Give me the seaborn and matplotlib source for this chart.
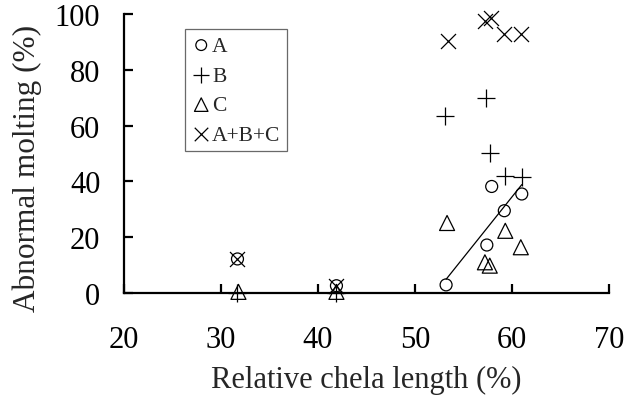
import matplotlib
matplotlib.use("Agg")
import matplotlib.pyplot as plt
import seaborn as sns
import pandas as pd

# Relative chela length (%) and abnormal molting rate (%) per treatment
a_x = [31.7, 41.9, 53.2, 57.4, 57.9, 59.2, 61.0]
a_y = [12.2, 2.6, 2.9, 17.2, 38.2, 29.5, 35.5]

b_x = [31.7, 41.9, 53.1, 57.3, 57.7, 59.3, 61.0]
b_y = [0.0, 0.0, 63.6, 69.9, 50.2, 42.0, 41.5]

c_x = [31.8, 41.9, 53.3, 57.2, 57.7, 59.3, 60.9]
c_y = [0.4, 0.4, 25.1, 11.0, 9.8, 22.3, 16.4]

abc_x = [31.7, 41.9, 53.4, 57.2, 57.8, 59.2, 60.9]
abc_y = [12.2, 2.6, 90.4, 97.6, 98.8, 92.8, 92.8]

x_ticks = [20, 30, 40, 50, 60, 70]
y_ticks = [0, 20, 40, 60, 80, 100]

sns.set_style("white")
plt.rcParams["font.family"] = ["Liberation Serif", "DejaVu Serif"]

fig = plt.figure(figsize=(6.26, 4.10), dpi=100)
ax = fig.add_axes([0.198, 0.283, 0.775, 0.680])

df_a = pd.DataFrame({"x": a_x, "y": a_y})
df_b = pd.DataFrame({"x": b_x, "y": b_y})
df_c = pd.DataFrame({"x": c_x, "y": c_y})
df_abc = pd.DataFrame({"x": abc_x, "y": abc_y})

sns.scatterplot(data=df_a, x="x", y="y", marker="o", s=8.6 ** 2,
                facecolor="none", edgecolor="black", linewidth=0.9,
                label="A", ax=ax, clip_on=False, zorder=3)
sns.scatterplot(data=df_b, x="x", y="y", marker="+", s=13 ** 2,
                color="black", linewidth=0.9, label="B", ax=ax,
                clip_on=False, zorder=3)
sns.scatterplot(data=df_c, x="x", y="y", marker="^", s=10.8 ** 2,
                facecolor="none", edgecolor="black", linewidth=0.9,
                label="C", ax=ax, clip_on=False, zorder=3)
sns.scatterplot(data=df_abc, x="x", y="y", marker="x", s=10.8 ** 2,
                color="black", linewidth=0.9, label="A+B+C", ax=ax,
                clip_on=False, zorder=3)

# Linear fit of treatment A over the long-chela group
fit = df_a[df_a["x"] > 50]
sns.regplot(data=fit, x="x", y="y", scatter=False, ci=None, truncate=True,
            line_kws={"color": "black", "linewidth": 0.9}, ax=ax)

ax.set_xlim(20, 70)
ax.set_ylim(0, 100)
ax.set_xticks(x_ticks)
ax.set_yticks(y_ticks)

for side in ("top", "right"):
    ax.spines[side].set_visible(False)
for side in ("left", "bottom"):
    ax.spines[side].set_linewidth(1.6)
    ax.spines[side].set_color("black")

ax.tick_params(axis="both", direction="in", length=6.5, width=1.6,
               colors="black", labelsize=22)
ax.tick_params(axis="x", pad=23, bottom=True)
ax.tick_params(axis="y", pad=17, left=True)

ax.set_xlabel("Relative chela length (%)", fontsize=22, labelpad=8)
ax.set_ylabel("Abnormal molting (%)", fontsize=22.5)
ax.yaxis.set_label_coords(-0.168, 0.452)

leg = ax.legend(loc="upper left", bbox_to_anchor=(0.126, 0.946),
                borderaxespad=0, frameon=True, fancybox=False,
                edgecolor="#444444", fontsize=15.5, markerscale=0.9,
                handlelength=0.9, handletextpad=0.05, labelspacing=0.45,
                borderpad=0.3)
leg.get_frame().set_linewidth(0.9)

fig.savefig("out.png", dpi=100)
